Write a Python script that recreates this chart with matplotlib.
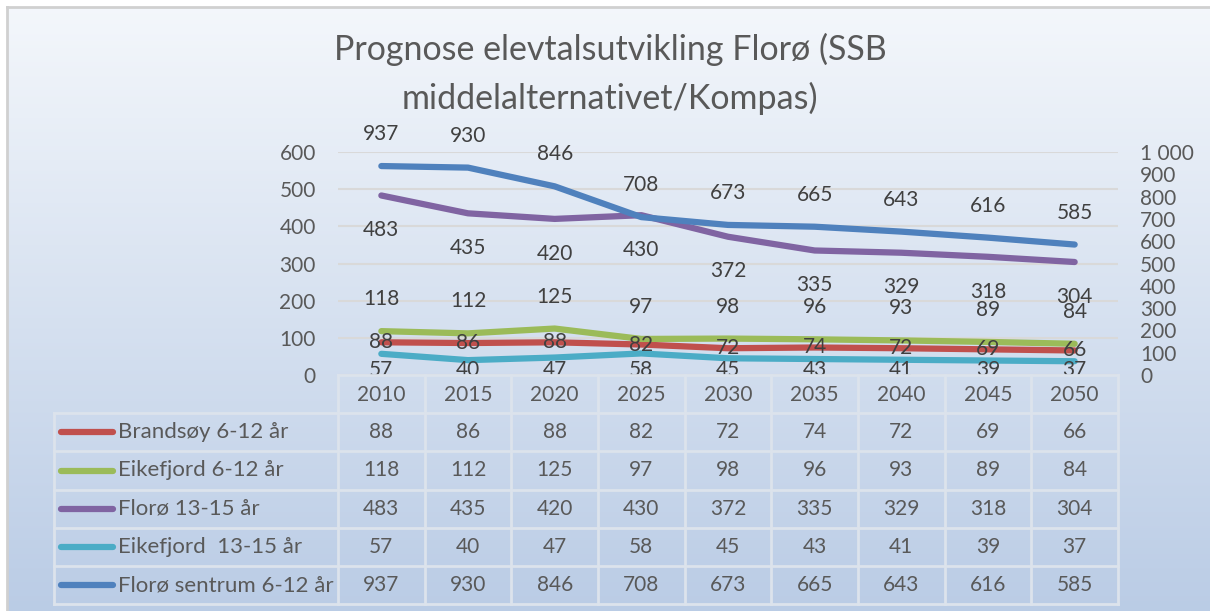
import numpy as np
import matplotlib
matplotlib.use("Agg")
import matplotlib.pyplot as plt
from matplotlib.ticker import FuncFormatter, MultipleLocator

years = ["2010", "2015", "2020", "2025", "2030", "2035", "2040", "2045", "2050"]
brandsoy_6_12 = [88, 86, 88, 82, 72, 74, 72, 69, 66]
eikefjord_6_12 = [118, 112, 125, 97, 98, 96, 93, 89, 84]
floro_13_15 = [483, 435, 420, 430, 372, 335, 329, 318, 304]
eikefjord_13_15 = [57, 40, 47, 58, 45, 43, 41, 39, 37]
floro_sentrum_6_12 = [937, 930, 846, 708, 673, 665, 643, 616, 585]

series_names = ["Brandsøy 6-12 år", "Eikefjord 6-12 år", "Florø 13-15 år",
                "Eikefjord  13-15 år", "Florø sentrum 6-12 år"]
series_vals = [brandsoy_6_12, eikefjord_6_12, floro_13_15, eikefjord_13_15, floro_sentrum_6_12]
colors = ["#C0504D", "#9BBB59", "#8064A2", "#4BACC6", "#4F81BD"]
title = "Prognose elevtalsutvikling Florø (SSB\nmiddelalternativet/Kompas)"

FONT = ["Lato", "DejaVu Sans"]
plt.rcParams["font.family"] = FONT
TXT = "#595959"
LBL = "#404040"
GRID = "#D9D9D9"
FS = 15

W, H = 1210, 611
fig = plt.figure(figsize=(W / 100, H / 100), dpi=100)
fig.patch.set_facecolor("white")

def fx(px):
    return px / W

def fy(py):
    return 1 - py / H

# background gradient of chart area
bg = fig.add_axes([fx(7), 0, 1 - fx(7), fy(7)])
bg.set_axis_off()
top = np.array([0.955, 0.968, 0.985])
bot = np.array([0.73, 0.80, 0.90])
t = np.linspace(0, 1, 256)[:, None]
grad = top[None, :] * (1 - t) + bot[None, :] * t
bg.imshow(grad[:, None, :], aspect="auto", extent=[0, 1, 0, 1], origin="upper")
bg.set_xlim(0, 1)
bg.set_ylim(0, 1)
bg.plot([0, 0], [0, 1], color="#D0D0D0", lw=2, transform=bg.transAxes, clip_on=False)
bg.plot([0, 1], [1, 1], color="#D0D0D0", lw=2, transform=bg.transAxes, clip_on=False)

# main axes
L, R, T, B = 338, 1118, 152, 375
ax = fig.add_axes([fx(L), fy(B), fx(R) - fx(L), fy(T) - fy(B)])
ax.patch.set_alpha(0)
x = np.arange(len(years))
ax.set_xlim(-0.5, len(years) - 0.5)
ax.set_ylim(0, 600)
ax.yaxis.set_major_locator(MultipleLocator(100))
ax.grid(axis="y", color=GRID, lw=1.5)
ax.set_axisbelow(True)
for s in ax.spines.values():
    s.set_visible(False)
ax.set_xticks([])
ax.tick_params(axis="y", length=0, pad=16, labelsize=FS, labelcolor=TXT)

ax2 = ax.twinx()
ax2.set_ylim(0, 1000)
ax2.yaxis.set_major_locator(MultipleLocator(100))
ax2.yaxis.set_major_formatter(FuncFormatter(lambda v, p: f"{int(v):,}".replace(",", " ")))
for s in ax2.spines.values():
    s.set_visible(False)
ax2.tick_params(axis="y", length=0, pad=16, labelsize=FS, labelcolor=TXT)

lw = 4.5
# primary series
for i in range(4):
    ax.plot(x, series_vals[i], color=colors[i], lw=lw, solid_capstyle="round",
            solid_joinstyle="round", zorder=3)
ax2.plot(x, floro_sentrum_6_12, color=colors[4], lw=lw, solid_capstyle="round",
         solid_joinstyle="round", zorder=3)

lab_kw = dict(ha="center", va="center", fontsize=FS, color=LBL, zorder=5)
# data labels
for xi, v in zip(x, brandsoy_6_12):
    ax.text(xi, v, str(v), **lab_kw)
for xi, v in zip(x, eikefjord_6_12):
    ax.annotate(str(v), (xi, v), xytext=(0, 23), textcoords="offset points", **lab_kw)
for xi, v in zip(x, floro_13_15):
    ax.annotate(str(v), (xi, v), xytext=(0, -25), textcoords="offset points", **lab_kw)
for xi, v in zip(x, eikefjord_13_15):
    ax.text(xi, max(v - 86, 13), str(v), **lab_kw)
for xi, v in zip(x, floro_sentrum_6_12):
    ax2.annotate(str(v), (xi, v), xytext=(0, 23), textcoords="offset points", **lab_kw)

# title
fig.text(fx(610), fy(74), title, ha="center", va="center", fontsize=24.5,
         color=TXT, fontweight="normal", linespacing=1.6)

# data table
TL = 54
row_h = 38.2
tab_top = B
unit = (R - L) / len(years)
tab = fig.add_axes([0, 0, 1, 1])
tab.set_xlim(0, W)
tab.set_ylim(H, 0)
tab.set_axis_off()
tab.patch.set_alpha(0)
tcol = "#DCE3EC"
nrows = len(series_names)
rows_bottom = tab_top + row_h * (nrows + 1)
# horizontal lines
tab.plot([L, R], [tab_top, tab_top], color=tcol, lw=2)
for r in range(1, nrows + 2):
    yy = tab_top + r * row_h
    tab.plot([TL, R], [yy, yy], color=tcol, lw=2)
# vertical lines
tab.plot([TL, TL], [tab_top + row_h, rows_bottom], color=tcol, lw=2)
for c in range(len(years) + 1):
    xx = L + c * unit
    tab.plot([xx, xx], [tab_top, rows_bottom], color=tcol, lw=2)
# header
for c, yr in enumerate(years):
    tab.text(L + (c + 0.5) * unit, tab_top + row_h * 0.5 + 1, yr, ha="center",
             va="center", fontsize=FS, color=TXT)
for r, (name, vals, col) in enumerate(zip(series_names, series_vals, colors)):
    yc = tab_top + (r + 1.5) * row_h
    tab.plot([61, 113], [yc, yc], color=col, lw=4.5, solid_capstyle="round")
    tab.text(118, yc, name, ha="left", va="center", fontsize=FS + 1, color=TXT)
    for c, v in enumerate(vals):
        tab.text(L + (c + 0.5) * unit, yc, str(v), ha="center", va="center",
                 fontsize=FS, color=TXT)

fig.savefig("out.png", dpi=100)
